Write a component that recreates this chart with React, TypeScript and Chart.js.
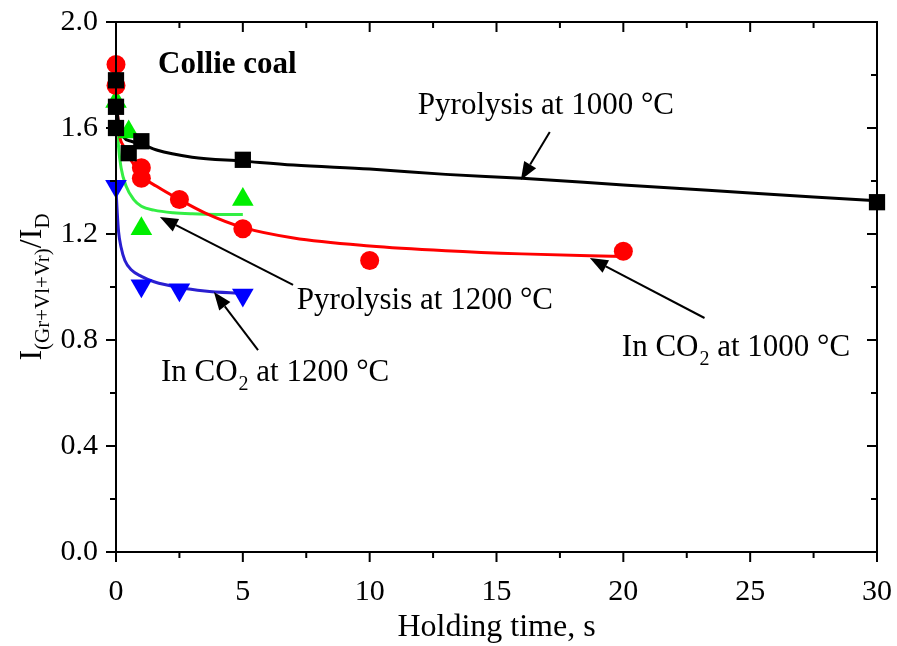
import React, { useEffect, useRef } from 'react';
import { Chart, registerables } from 'chart.js';
Chart.register(...registerables);

// ---- axis ticks ----
const xTicks = [0, 5, 10, 15, 20, 25, 30];
const xMinorTicks = [2.5, 7.5, 12.5, 17.5, 22.5, 27.5];
const yTicks = [0, 0.4, 0.8, 1.2, 1.6, 2.0];
const yMinorTicks = [0.2, 0.6, 1.0, 1.4, 1.8];

// ---- measured points ----
const pyro1000X = [0, 0, 0, 0.5, 1, 5, 30];
const pyro1000Y = [1.78, 1.68, 1.6, 1.505, 1.55, 1.48, 1.32];
const co21000X = [0, 0, 1, 1, 2.5, 5, 10, 20];
const co21000Y = [1.84, 1.76, 1.45, 1.41, 1.33, 1.22, 1.1, 1.135];
const pyro1200X = [0, 0.5, 1, 5];
const pyro1200Y = [1.7, 1.585, 1.22, 1.33];
const co21200X = [0, 1, 2.5, 5];
const co21200Y = [1.38, 1.005, 0.99, 0.97];

// ---- fitted curves ----
const pyro1000FitX = [0, 0.1, 0.3, 0.6, 1, 1.6, 3, 5, 7, 10, 13, 16, 20, 25, 30];
const pyro1000FitY = [1.7, 1.62, 1.565, 1.55, 1.54, 1.517, 1.49, 1.475, 1.46, 1.445, 1.425, 1.41, 1.385, 1.355, 1.325];
const co21000FitX = [0, 0.1, 0.3, 0.65, 1, 1.6, 2.5, 3.5, 5, 7, 10, 13, 16, 20];
const co21000FitY = [1.76, 1.6, 1.53, 1.47, 1.42, 1.38, 1.33, 1.28, 1.225, 1.185, 1.155, 1.137, 1.125, 1.115];
const pyro1200FitX = [0, 0.05, 0.1, 0.2, 0.4, 0.7, 1, 1.5, 2.25, 3, 4, 5];
const pyro1200FitY = [1.72, 1.62, 1.53, 1.45, 1.38, 1.33, 1.305, 1.29, 1.28, 1.276, 1.274, 1.274];
const co21200FitX = [0, 0.05, 0.1, 0.2, 0.35, 0.6, 1, 1.5, 2.5, 3.5, 5];
const co21200FitY = [1.37, 1.28, 1.21, 1.15, 1.1, 1.065, 1.04, 1.02, 0.998, 0.985, 0.975];

// ---- annotations (data coordinates) ----
const labelPyro1000 = { x: 11.9, y: 1.653, main: 'Pyrolysis at 1000 °C', sub: '', rest: '' };
const labelPyro1200 = { x: 7.13, y: 0.917, main: 'Pyrolysis at 1200 °C', sub: '', rest: '' };
const labelCO21000 = { x: 19.94, y: 0.74, main: 'In CO', sub: '2', rest: ' at 1000 °C' };
const labelCO21200 = { x: 1.77, y: 0.645, main: 'In CO', sub: '2', rest: ' at 1200 °C' };
const arrowPyro1000 = [17.1, 1.585, 15.96, 1.404];
const arrowPyro1200 = [6.98, 1.008, 1.73, 1.264];
const arrowCO21000 = [23.2, 0.883, 18.68, 1.109];
const arrowCO21200 = [5.6, 0.762, 3.86, 0.981];
const coalLabel = { x: 1.66, y: 1.808, text: 'Collie coal' };

const FONT = "'Liberation Serif', 'Times New Roman', serif";

const zip = (xs: number[], ys: number[]) => xs.map((x, i) => ({ x, y: ys[i] }));

const decorPlugin = {
  id: 'decor',
  afterDraw(chart: any) {
    const { ctx, chartArea: a, scales } = chart;
    const sx = scales.x, sy = scales.y;
    ctx.save();
    ctx.strokeStyle = '#000';
    ctx.fillStyle = '#000';
    ctx.lineWidth = 2;
    const line = (x1: number, y1: number, x2: number, y2: number) => {
      ctx.beginPath(); ctx.moveTo(x1, y1); ctx.lineTo(x2, y2); ctx.stroke();
    };
    ctx.strokeRect(a.left, a.top, a.right - a.left, a.bottom - a.top);
    const major = 10, minor = 6;
    xTicks.forEach(v => { const p = sx.getPixelForValue(v); line(p, a.bottom, p, a.bottom + major); line(p, a.top, p, a.top + major); });
    xMinorTicks.forEach(v => { const p = sx.getPixelForValue(v); line(p, a.bottom, p, a.bottom + minor); line(p, a.top, p, a.top + minor); });
    yTicks.forEach(v => { const p = sy.getPixelForValue(v); line(a.left - major, p, a.left, p); line(a.right - major, p, a.right, p); });
    yMinorTicks.forEach(v => { const p = sy.getPixelForValue(v); line(a.left - minor, p, a.left, p); line(a.right - minor, p, a.right, p); });

    // x title
    ctx.font = `32px ${FONT}`;
    ctx.textAlign = 'center';
    ctx.textBaseline = 'alphabetic';
    ctx.fillText('Holding time, s', (a.left + a.right) / 2, 636);

    // y title (rotated, with subscripts)
    const big = `32px ${FONT}`, small = `21px ${FONT}`;
    const segs = [
      { t: 'I', f: big, dy: 0 },
      { t: '(Gr+Vl+Vr)', f: small, dy: 8 },
      { t: '/I', f: big, dy: 0 },
      { t: 'D', f: small, dy: 8 },
    ];
    let total = 0;
    segs.forEach(s => { ctx.font = s.f; total += ctx.measureText(s.t).width; });
    ctx.save();
    ctx.translate(41, (a.top + a.bottom) / 2);
    ctx.rotate(-Math.PI / 2);
    ctx.textAlign = 'left';
    let cx = -total / 2;
    segs.forEach(s => { ctx.font = s.f; ctx.fillText(s.t, cx, s.dy); cx += ctx.measureText(s.t).width; });
    ctx.restore();

    // Collie coal
    ctx.textAlign = 'left';
    ctx.font = `bold 31px ${FONT}`;
    ctx.fillText(coalLabel.text, sx.getPixelForValue(coalLabel.x), sy.getPixelForValue(coalLabel.y));

    // rich labels
    const drawLabel = (l: any) => {
      let px = sx.getPixelForValue(l.x);
      const py = sy.getPixelForValue(l.y);
      ctx.font = `31px ${FONT}`;
      ctx.fillText(l.main, px, py); px += ctx.measureText(l.main).width;
      if (l.sub) { ctx.font = `20px ${FONT}`; ctx.fillText(l.sub, px + 1, py + 9); px += ctx.measureText(l.sub).width + 1; }
      if (l.rest) { ctx.font = `31px ${FONT}`; ctx.fillText(l.rest, px, py); }
    };
    [labelPyro1000, labelPyro1200, labelCO21000, labelCO21200].forEach(drawLabel);

    const arrow = (arr: number[]) => {
      const x1 = sx.getPixelForValue(arr[0]), y1 = sy.getPixelForValue(arr[1]);
      const x2 = sx.getPixelForValue(arr[2]), y2 = sy.getPixelForValue(arr[3]);
      const ang = Math.atan2(y2 - y1, x2 - x1);
      const hl = 18, hw = 7;
      const bx = x2 - hl * Math.cos(ang), by = y2 - hl * Math.sin(ang);
      ctx.lineWidth = 2;
      line(x1, y1, bx, by);
      ctx.beginPath();
      ctx.moveTo(x2, y2);
      ctx.lineTo(bx + hw * Math.sin(ang), by - hw * Math.cos(ang));
      ctx.lineTo(bx - hw * Math.sin(ang), by + hw * Math.cos(ang));
      ctx.closePath();
      ctx.fill();
    };
    [arrowPyro1000, arrowPyro1200, arrowCO21000, arrowCO21200].forEach(arrow);
    ctx.restore();
  },
};

export default function App() {
  const ref = useRef<HTMLCanvasElement>(null);
  useEffect(() => {
    document.body.style.margin = '0';
    const ctx = ref.current!.getContext('2d')!;
    const pts = (label: string, xs: number[], ys: number[], style: any, color: string, r: number, rot = 0) => ({
      type: 'scatter', label, data: zip(xs, ys), pointStyle: style, pointRadius: r, pointRotation: rot,
      backgroundColor: color, borderColor: color, borderWidth: 0, showLine: false, clip: false,
    });
    const fit = (label: string, xs: number[], ys: number[], color: string) => ({
      type: 'scatter', label, data: zip(xs, ys), showLine: true, pointRadius: 0, borderColor: color,
      borderWidth: 3, cubicInterpolationMode: 'monotone', fill: false,
    });
    const chart = new Chart(ctx, {
      type: 'scatter',
      data: {
        datasets: [
          pts('Pyrolysis 1000 °C', pyro1000X, pyro1000Y, 'rect', '#000000', 11.5),
          pts('In CO2 1000 °C', co21000X, co21000Y, 'circle', '#ff0000', 9.5),
          pts('Pyrolysis 1200 °C', pyro1200X, pyro1200Y, 'triangle', '#00ee00', 12.5),
          pts('In CO2 1200 °C', co21200X, co21200Y, 'triangle', '#0000ff', 12.5, 180),
          fit('fit P1000', pyro1000FitX, pyro1000FitY, '#000000'),
          fit('fit C1000', co21000FitX, co21000FitY, '#ff0000'),
          fit('fit P1200', pyro1200FitX, pyro1200FitY, '#33ee44'),
          fit('fit C1200', co21200FitX, co21200FitY, '#2a1fd0'),
        ] as any,
      },
      options: {
        responsive: false,
        animation: false,
        layout: { padding: { top: 22, right: 20, left: 0, bottom: 0 } },
        plugins: { legend: { display: false }, tooltip: { enabled: false } },
        scales: {
          x: {
            type: 'linear', min: 0, max: 30,
            grid: { display: false }, border: { display: false },
            afterBuildTicks: (s: any) => { s.ticks = xTicks.map(v => ({ value: v })); },
            afterFit: (s: any) => { s.height = 94; s.paddingLeft = 0; s.paddingRight = 0; },
            ticks: { color: '#000', font: { family: FONT, size: 30 }, padding: 14, maxRotation: 0, autoSkip: false },
          },
          y: {
            type: 'linear', min: 0, max: 2,
            grid: { display: false, drawTicks: false }, border: { display: false },
            afterBuildTicks: (s: any) => { s.ticks = yTicks.map(v => ({ value: v })); },
            afterFit: (s: any) => { s.width = 116; s.paddingTop = 0; s.paddingBottom = 0; },
            ticks: { color: '#000', font: { family: FONT, size: 30 }, padding: 18, autoSkip: false, callback: (v: any) => Number(v).toFixed(1) },
          },
        },
      } as any,
      plugins: [decorPlugin],
    });
    return () => chart.destroy();
  }, []);
  return <canvas ref={ref} width={897} height={646} style={{ display: 'block' }} />;
}
